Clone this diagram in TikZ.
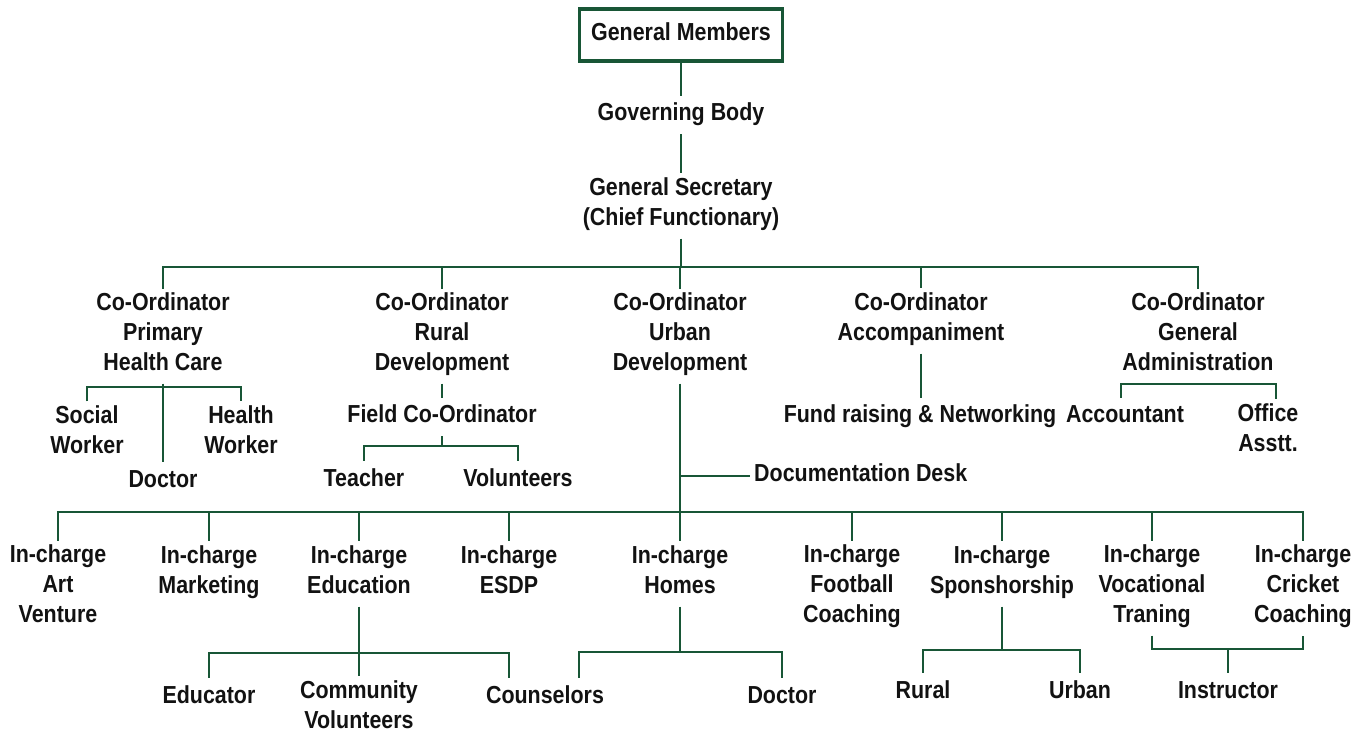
\documentclass[tikz,border=0pt]{standalone}
\usepackage{fontspec}
\setmainfont{Liberation Sans}[FakeStretch=0.87]
\definecolor{lgreen}{RGB}{24,86,54}
\definecolor{txt}{RGB}{18,18,18}
\begin{document}
\begin{tikzpicture}[x=0.01cm,y=-0.01cm,
  lbl/.style={align=center,inner sep=1pt,text=txt,font=\fontsize{7}{8.5}\selectfont\bfseries,
    execute at begin node=\strut, execute at end node=\strut},
  topbox/.style={lbl,draw=lgreen,line width=1pt,minimum width=2.03cm,minimum height=0.52cm},
  conn/.style={draw=lgreen,line width=0.8pt}]
\useasboundingbox (0,0) rectangle (1370,738);
% top
\node[topbox] (gm) at (681,35) {General Members};
\node[lbl] (gb) at (681,115) {Governing Body};
\node[lbl] (gs) at (681,206) {General Secretary\\(Chief Functionary)};
% coordinators
\node[lbl] (c1) at (163,336) {Co-Ordinator\\Primary\\Health Care};
\node[lbl] (c2) at (442,336) {Co-Ordinator\\Rural\\Development};
\node[lbl] (c3) at (680,336) {Co-Ordinator\\Urban\\Development};
\node[lbl] (c4) at (921,321) {Co-Ordinator\\Accompaniment};
\node[lbl] (c5) at (1198,336) {Co-Ordinator\\General\\Administration};
% PHC
\node[lbl] (sw) at (87,434) {Social\\Worker};
\node[lbl] (hw) at (241,434) {Health\\Worker};
\node[lbl] (doc1) at (163,481) {Doctor};
% Rural
\node[lbl] (fc) at (442,417) {Field Co-Ordinator};
\node[lbl] (tea) at (364,480) {Teacher};
\node[lbl] (vol) at (518,480) {Volunteers};
% Urban
\node[lbl,anchor=west] (dd) at (750,476) {Documentation Desk};
% Accompaniment
\node[lbl] (fr) at (920,417) {Fund raising \& Networking};
% General administration
\node[lbl] (acc) at (1125,417) {Accountant};
\node[lbl] (oa) at (1268,432) {Office\\Asstt.};
% in-charges
\node[lbl] (i1) at (58,588) {In-charge\\Art\\Venture};
\node[lbl] (i2) at (209,574) {In-charge\\Marketing};
\node[lbl] (i3) at (359,574) {In-charge\\Education};
\node[lbl] (i4) at (509,574) {In-charge\\ESDP};
\node[lbl] (i5) at (680,574) {In-charge\\Homes};
\node[lbl] (i6) at (852,588) {In-charge\\Football\\Coaching};
\node[lbl] (i7) at (1002,574) {In-charge\\Sponshorship};
\node[lbl] (i8) at (1152,588) {In-charge\\Vocational\\Traning};
\node[lbl] (i9) at (1303,588) {In-charge\\Cricket\\Coaching};
% bottom level
\node[lbl] (edu) at (209,697) {Educator};
\node[lbl] (cv) at (359,709) {Community\\Volunteers};
\node[lbl] (cou) at (545,697) {Counselors};
\node[lbl] (doc2) at (782,697) {Doctor};
\node[lbl] (rur) at (923,692) {Rural};
\node[lbl] (urb) at (1080,692) {Urban};
\node[lbl] (ins) at (1228,692) {Instructor};
% coordinates of buses
\coordinate (b1) at (681,267);
\coordinate (b2) at (680,512);
% connectors top
\draw[conn] (gm) -- (gb);
\draw[conn] (gb) -- (gs);
\draw[conn] (gs) -- (b1);
\draw[conn] (c1.north) -- (c1.north |- b1) -- (c5.north |- b1) -- (c5.north);
\draw[conn] (c2.north |- b1) -- (c2.north);
\draw[conn] (c3.north |- b1) -- (c3.north);
\draw[conn] (c4.north |- b1) -- (c4.north);
% PHC
\draw[conn] (c1.south) -- (doc1.north);
\draw[conn] (sw.north) -- (sw.north |- 0,387) -- (hw.north |- 0,387) -- (hw.north);
% Rural
\draw[conn] (c2) -- (fc);
\draw[conn] (fc.south) -- (fc.south |- 0,446);
\draw[conn] (tea.north) -- (tea.north |- 0,446) -- (vol.north |- 0,446) -- (vol.north);
% Urban
\draw[conn] (c3.south) -- (b2);
\draw[conn] (b2 |- dd.west) -- (dd.west);
% Accompaniment
\draw[conn] (c4.south) -- (c4.south |- fr.north);
% Gen admin
\draw[conn] ([xshift=-0.04cm]acc.north) -- ([xshift=-0.04cm]acc.north |- 0,384) -- ([xshift=0.08cm]oa.north |- 0,384) -- ([xshift=0.08cm]oa.north);
% bottom bus
\draw[conn] (i1.north) -- (i1.north |- b2) -- (i9.north |- b2) -- (i9.north);
\foreach \n in {i2,i3,i4,i5,i6,i7,i8}{\draw[conn] (\n.north |- b2) -- (\n.north);}
% Education
\draw[conn] (i3.south) -- (cv.north);
\draw[conn] (edu.north) -- (edu.north |- 0,653) -- (509,653) -- (509,0 |- cou.north);
% Homes
\draw[conn] (i5.south) -- (680,652);
\draw[conn] (579,0 |- cou.north) -- (579,652) -- (doc2.north |- 0,652) -- (doc2.north);
% Sponsorship
\draw[conn] (i7.south) -- (i7.south |- 0,650);
\draw[conn] (rur.north) -- (rur.north |- 0,650) -- (urb.north |- 0,650) -- (urb.north);
% Vocational / Cricket
\draw[conn] (i8.south) -- (i8.south |- 0,649) -- (i9.south |- 0,649) -- (i9.south);
\draw[conn] (ins.north |- 0,649) -- (ins.north);
\end{tikzpicture}
\end{document}
